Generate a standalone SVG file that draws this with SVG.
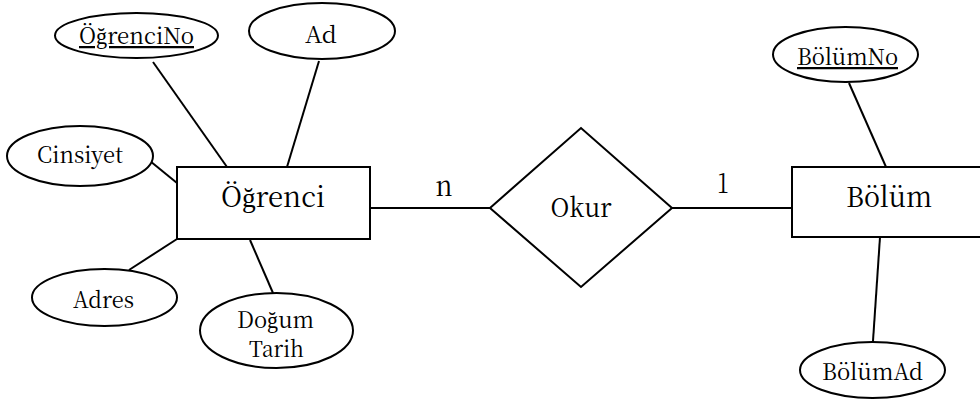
<svg xmlns="http://www.w3.org/2000/svg" width="980" height="401" viewBox="0 0 980 401">
  <style>
    .shape { fill: #ffffff; stroke: #000000; stroke-width: 2; }
    .link { stroke: #000000; stroke-width: 2; fill: none; }
    .lbl { fill: #000000; text-anchor: middle; font-family: "Noto Serif CJK SC", "Liberation Serif", serif; }
    .attr { font-size: 22.5px; }
    .ent { font-size: 28px; }
    .rel { font-size: 26px; }
    .key { text-decoration: underline; }
  </style>
  <rect width="980" height="401" fill="#ffffff"/>

  <!-- connectors and cardinalities -->
  <g id="connectors">
    <line class="link" x1="153" y1="62" x2="227" y2="167"/>
    <line class="link" x1="319" y1="61" x2="287" y2="167"/>
    <line class="link" x1="150" y1="161" x2="177" y2="183"/>
    <line class="link" x1="177" y1="239" x2="129" y2="270"/>
    <line class="link" x1="250" y1="240" x2="273" y2="293"/>
    <line class="link" x1="370" y1="208" x2="490" y2="208"/>
    <line class="link" x1="672" y1="208" x2="792" y2="208"/>
    <line class="link" x1="849" y1="83" x2="886" y2="167"/>
    <line class="link" x1="880" y1="237" x2="873" y2="341"/>
    <text class="lbl ent" x="444" y="196" textLength="17" lengthAdjust="spacingAndGlyphs">n</text>
    <text class="lbl ent" x="723" y="193" textLength="12" lengthAdjust="spacingAndGlyphs">1</text>
  </g>

  <!-- entity: Öğrenci -->
  <g id="ogrenci">
    <rect class="shape" x="177" y="167" width="193" height="72"/>
    <text class="lbl ent" x="273" y="207" textLength="104" lengthAdjust="spacingAndGlyphs">Öğrenci</text>
  </g>

  <!-- entity: Bölüm (runs off the right edge) -->
  <g id="bolum">
    <rect class="shape" x="792" y="167" width="200" height="70"/>
    <text class="lbl ent" x="889" y="207" textLength="86" lengthAdjust="spacingAndGlyphs">Bölüm</text>
  </g>

  <!-- relationship: Okur -->
  <g id="okur">
    <polygon class="shape" points="490,208 581,128 672,208 581,287"/>
    <text class="lbl rel" x="581" y="217" textLength="61" lengthAdjust="spacingAndGlyphs">Okur</text>
  </g>

  <!-- attributes of Öğrenci -->
  <g id="ogrenci-no">
    <ellipse class="shape" cx="136.5" cy="35.5" rx="81.5" ry="22.5"/>
    <text class="lbl attr key" x="136.5" y="44" textLength="115" lengthAdjust="spacingAndGlyphs">ÖğrenciNo</text>
  </g>
  <g id="ad">
    <ellipse class="shape" cx="322" cy="31" rx="73" ry="28"/>
    <text class="lbl attr" x="321" y="43" textLength="32" lengthAdjust="spacingAndGlyphs">Ad</text>
  </g>
  <g id="cinsiyet">
    <ellipse class="shape" cx="80" cy="156" rx="73" ry="30"/>
    <text class="lbl attr" x="80" y="163" textLength="86" lengthAdjust="spacingAndGlyphs">Cinsiyet</text>
  </g>
  <g id="adres">
    <ellipse class="shape" cx="104.5" cy="297.5" rx="72.5" ry="28.5"/>
    <text class="lbl attr" x="103.5" y="308" textLength="61" lengthAdjust="spacingAndGlyphs">Adres</text>
  </g>
  <g id="dogum-tarih">
    <ellipse class="shape" cx="276.5" cy="330.5" rx="76.5" ry="37.5"/>
    <text class="lbl attr" x="275.5" y="328" textLength="77" lengthAdjust="spacingAndGlyphs">Doğum</text>
    <text class="lbl attr" x="276.5" y="357" textLength="55" lengthAdjust="spacingAndGlyphs">Tarih</text>
  </g>

  <!-- attributes of Bölüm -->
  <g id="bolum-no">
    <ellipse class="shape" cx="845.5" cy="54.5" rx="72.5" ry="27.5"/>
    <text class="lbl attr key" x="847.5" y="65" textLength="101" lengthAdjust="spacingAndGlyphs">BölümNo</text>
  </g>
  <g id="bolum-ad">
    <ellipse class="shape" cx="872.5" cy="370" rx="72.5" ry="28"/>
    <text class="lbl attr" x="872.5" y="380" textLength="101" lengthAdjust="spacingAndGlyphs">BölümAd</text>
  </g>
</svg>
